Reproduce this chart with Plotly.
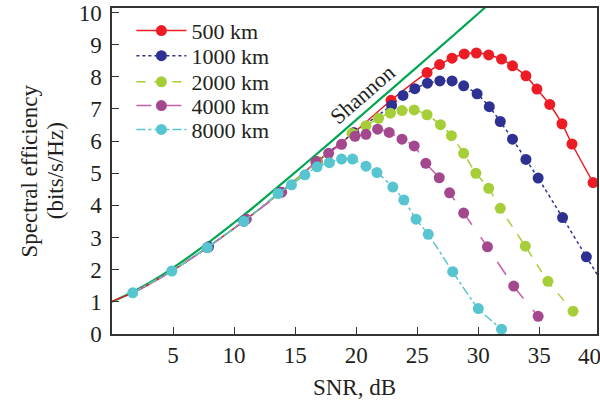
import plotly.graph_objects as go

# ---------------- data ----------------
shannon_x = [0, 2, 4, 6, 8, 10, 12, 14, 16, 18, 20, 22, 24, 26, 28, 30, 30.8]
shannon_y = [1.0, 1.37, 1.81, 2.32, 2.87, 3.46, 4.07, 4.71, 5.35, 6.00, 6.66, 7.32, 7.98, 8.64, 9.30, 9.97, 10.24]

km500_x = [0, 1.7, 4.9, 7.8, 10.8, 13.8, 16.8, 19.8, 22.85, 25.8, 26.83, 27.85, 28.85,
           29.84, 30.85, 31.9, 32.8, 33.9, 34.8, 35.85, 36.85, 37.67, 39.4]
km500_y = [1.02, 1.28, 1.96, 2.69, 3.51, 4.41, 5.36, 6.26, 7.27, 8.13, 8.38, 8.58, 8.71,
           8.74, 8.68, 8.55, 8.34, 8.03, 7.62, 7.14, 6.54, 5.91, 4.71]

km1000_x = [1.7, 4.9, 7.9, 10.8, 13.8, 16.8, 19.8, 22.9, 23.83, 24.8, 25.83, 26.85, 27.85,
            28.8, 29.9, 30.9, 31.8, 32.8, 33.9, 34.9, 36.9, 38.85, 39.9]
km1000_y = [1.28, 1.96, 2.71, 3.51, 4.41, 5.36, 6.26, 7.11, 7.42, 7.63, 7.80, 7.87, 7.87,
            7.72, 7.47, 7.07, 6.61, 6.06, 5.43, 4.85, 3.62, 2.40, 1.75]

km2000_x = [1.7, 4.9, 7.8, 10.8, 13.8, 16.8, 19.66, 20.8, 21.83, 22.8, 23.75, 24.75, 25.8,
            26.9, 27.8, 28.8, 29.8, 30.85, 31.8, 33.85, 35.7, 37.76]
km2000_y = [1.28, 1.96, 2.69, 3.51, 4.41, 5.34, 6.24, 6.48, 6.71, 6.87, 6.95, 6.97, 6.82,
            6.51, 6.17, 5.62, 5.00, 4.53, 3.91, 2.73, 1.64, 0.71]

km4000_x = [1.7, 4.9, 7.8, 11.0, 13.9, 16.7, 17.74, 18.8, 19.9, 20.8, 21.75, 22.7, 23.75,
            24.75, 25.7, 26.8, 27.65, 28.8, 30.75, 32.9, 34.9]
km4000_y = [1.28, 1.96, 2.69, 3.57, 4.41, 5.35, 5.62, 5.90, 6.15, 6.21, 6.37, 6.27, 6.06,
            5.85, 5.31, 4.86, 4.39, 3.76, 2.71, 1.49, 0.55]

km8000_x = [1.7, 4.9, 7.8, 10.8, 13.6, 14.7, 15.8, 16.8, 17.8, 18.8, 19.7, 20.8, 21.7,
            23.0, 23.9, 24.9, 25.9, 27.9, 30.0, 31.9]
km8000_y = [1.28, 1.96, 2.69, 3.51, 4.37, 4.64, 4.95, 5.20, 5.33, 5.44, 5.44, 5.22, 5.02,
            4.57, 4.17, 3.57, 3.10, 1.94, 0.79, 0.15]

series_names = ["500 km", "1000 km", "2000 km", "4000 km", "8000 km"]
x_ticks = [5, 10, 15, 20, 25, 30, 35]
y_ticks = [0, 1, 2, 3, 4, 5, 6, 7, 8, 9, 10]

# ---------------- styling ----------------
FONT = "Liberation Serif"
TXT = "#231F20"
MS = 11

fig = go.Figure()

fig.add_trace(go.Scatter(x=shannon_x, y=shannon_y, mode="lines", showlegend=False,
                         line=dict(color="#00A651", width=2.2, shape="spline")))

# (x, y, marker colour, line colour, dash, width, markers fully hidden below this x)
specs = [
    (km500_x, km500_y, "#ED1C24", "#ED1C24", "solid", 1.5, 14),
    (km1000_x, km1000_y, "#2E3192", "#2E3192", "dot", 1.5, 7),
    (km2000_x, km2000_y, "#A6CE39", "#A6CE39", "dash", 1.5, 14),
    (km4000_x, km4000_y, "#A3488E", "#C95FA8", "longdash", 1.5, 7),
    (km8000_x, km8000_y, "#56C5D0", "#56C5D0", "dashdot", 1.5, 0),
]
legend_ids = ["legend", "legend2", "legend3", "legend4", "legend5"]
for (xs, ys, mc, lc, dash, lw, hide_below), name, lid in zip(specs, series_names, legend_ids):
    sizes = [0 if xv < hide_below or xv == 0 else MS for xv in xs]
    if name == "1000 km":
        sizes[-1] = 0
    fig.add_trace(go.Scatter(
        x=xs, y=ys, mode="lines+markers", name=name, showlegend=False,
        line=dict(color=lc, width=lw, dash=dash, shape="spline", smoothing=0.6),
        marker=dict(color=mc, size=sizes, opacity=1, line=dict(width=0)),
        cliponaxis=True,
    ))
    # legend entry (same style, uniform marker size)
    fig.add_trace(go.Scatter(
        x=[None], y=[None], mode="lines+markers", name=name, legend=lid,
        line=dict(color=lc, width=lw, dash=dash),
        marker=dict(color=mc, size=MS, line=dict(width=0)),
    ))

# one single-entry legend per series so rows can sit as close as in the original
row_pos = [0.930, 0.853, 0.773, 0.700, 0.627]
legends = {}
for lid, yp in zip(legend_ids, row_pos):
    legends[lid] = dict(x=0.04, y=yp, xanchor="left", yanchor="middle",
                        bgcolor="rgba(0,0,0,0)", borderwidth=0,
                        font=dict(family=FONT, size=22, color=TXT), itemwidth=50)

fig.update_layout(
    width=600, height=400,
    margin=dict(l=112, r=3, t=8, b=66, autoexpand=False),
    paper_bgcolor="white", plot_bgcolor="white",
    font=dict(family=FONT, size=22, color=TXT),
    showlegend=True,
    xaxis=dict(range=[0, 39.72], tickvals=x_ticks, ticks="inside", ticklen=7,
               tickcolor="#333333", showgrid=False, zeroline=False, automargin=False,
               showline=True, linecolor="#333333", linewidth=1.5, mirror=True,
               tickfont=dict(family=FONT, size=23, color=TXT),
               title=dict(text="SNR, dB", font=dict(family=FONT, size=23, color=TXT), standoff=12)),
    yaxis=dict(range=[0, 10.14], tickvals=y_ticks, ticks="inside", ticklen=7,
               tickcolor="#333333", showgrid=False, zeroline=False, automargin=False,
               showline=True, linecolor="#333333", linewidth=1.5, mirror=True,
               ticklabeloverflow="allow",
               tickfont=dict(family=FONT, size=23, color=TXT), ticklabelstandoff=4),
    **legends,
)

fig.add_annotation(text="40", xref="x", yref="paper", x=39.1, y=0, yshift=-22,
                   showarrow=False, font=dict(family=FONT, size=23, color=TXT),
                   xanchor="center", yanchor="middle")
fig.add_annotation(text="Spectral efficiency", xref="paper", yref="paper",
                   x=-0.172, y=0.5, textangle=-90, showarrow=False,
                   font=dict(family=FONT, size=23, color=TXT),
                   xanchor="center", yanchor="middle")
fig.add_annotation(text="(bits/s/Hz)", xref="paper", yref="paper",
                   x=-0.117, y=0.5, textangle=-90, showarrow=False,
                   font=dict(family=FONT, size=23, color=TXT),
                   xanchor="center", yanchor="middle")
fig.add_annotation(text="Shannon", xref="x", yref="y", x=20.5, y=7.45, textangle=-41,
                   showarrow=False, font=dict(family=FONT, size=22, color=TXT))

fig.write_html("out.html", config={"displayModeBar": False},
               post_script="document.body.style.margin='0';")
